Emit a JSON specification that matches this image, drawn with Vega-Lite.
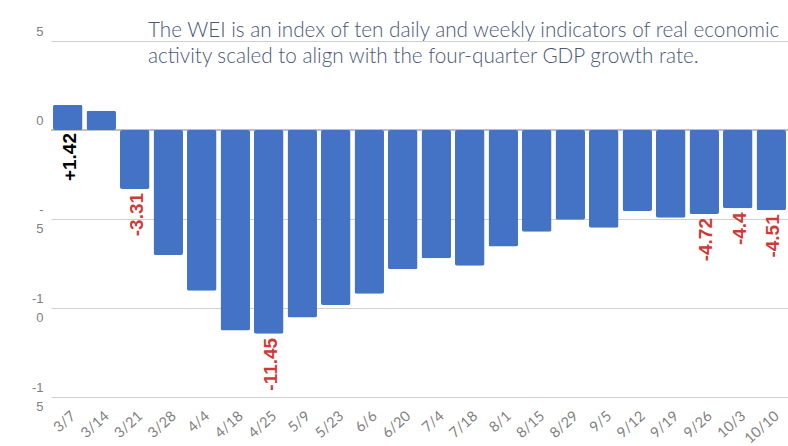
{
  "$schema": "https://vega.github.io/schema/vega-lite/v6.json",
  "width": 737,
  "height": 356,
  "autosize": {"type": "none"},
  "padding": {"left": 51, "top": 41, "right": 0, "bottom": 49},
  "background": "white",
  "title": {
    "text": ["The WEI is an index of ten daily and weekly indicators of real economic", "activity scaled to align with the four-quarter GDP growth rate."],
    "anchor": "start",
    "frame": "group",
    "orient": "top",
    "dx": 97,
    "dy": 63,
    "offset": 4,
    "baseline": "alphabetic",
    "font": "Lato",
    "fontSize": 20.7,
    "fontWeight": 300,
    "color": "#4a5878",
    "lineHeight": 26
  },
  "config": {
    "view": {"stroke": null},
    "axis": {"domain": false, "ticks": false}
  },
  "data": {
    "values": [
      {"week": "3/7", "wei": 1.42, "label": "+1.42"},
      {"week": "3/14", "wei": 1.08},
      {"week": "3/21", "wei": -3.31, "label": "-3.31"},
      {"week": "3/28", "wei": -7.02},
      {"week": "4/4", "wei": -9.03},
      {"week": "4/18", "wei": -11.27},
      {"week": "4/25", "wei": -11.45, "label": "-11.45"},
      {"week": "5/9", "wei": -10.54},
      {"week": "5/23", "wei": -9.83},
      {"week": "6/6", "wei": -9.2},
      {"week": "6/20", "wei": -7.83},
      {"week": "7/4", "wei": -7.21},
      {"week": "7/18", "wei": -7.62},
      {"week": "8/1", "wei": -6.55},
      {"week": "8/15", "wei": -5.71},
      {"week": "8/29", "wei": -5.04},
      {"week": "9/5", "wei": -5.49},
      {"week": "9/12", "wei": -4.55},
      {"week": "9/19", "wei": -4.93},
      {"week": "9/26", "wei": -4.72, "label": "-4.72"},
      {"week": "10/3", "wei": -4.4, "label": "-4.4"},
      {"week": "10/10", "wei": -4.51, "label": "-4.51"}
    ]
  },
  "layer": [
    {
      "mark": {"type": "rule", "color": "#bfbfbf", "strokeWidth": 1},
      "encoding": {"y": {"datum": 0, "type": "quantitative"}}
    },
    {
      "mark": {"type": "bar", "color": "#4472c4", "cornerRadius": 2},
      "encoding": {
        "x": {
          "field": "week",
          "type": "ordinal",
          "sort": null,
          "scale": {"paddingInner": 0.12, "paddingOuter": 0.06},
          "axis": {
            "title": null,
            "labelAngle": -42,
            "labelAlign": "right",
            "labelBaseline": "middle",
            "labelPadding": 17,
            "labelOffset": 6,
            "labelFont": "Lato",
            "labelFontSize": 14.5,
            "labelColor": "#7f7f7f"
          }
        },
        "y": {
          "field": "wei",
          "type": "quantitative",
          "scale": {"domain": [-15, 5], "nice": false},
          "axis": {
            "title": null,
            "grid": true,
            "values": [-15, -10, -5, 0, 5],
            "labelExpr": "datum.value == -5 ? ['-', '5'] : datum.value == -10 ? ['-1', '0'] : datum.value == -15 ? ['-1', '5'] : datum.label",
            "labelBaseline": "top",
            "labelOffset": -16,
            "labelAlign": "right",
            "labelPadding": 8,
            "labelFont": "Liberation Sans",
            "labelFontSize": 13,
            "labelLineHeight": 19,
            "labelColor": "#7f7f7f",
            "gridColor": "#d0d0d0",
            "gridOpacity": 1,
            "gridWidth": 1
          }
        }
      }
    },
    {
      "transform": [{"filter": "isValid(datum.label) && datum.wei < 0"}],
      "mark": {"type": "text", "angle": 270, "align": "right", "baseline": "middle", "dx": -4, "dy": 2, "font": "Liberation Sans", "fontWeight": "bold", "fontSize": 19, "color": "#cf3a36"},
      "encoding": {
        "x": {"field": "week", "type": "ordinal", "sort": null},
        "y": {"field": "wei", "type": "quantitative"},
        "text": {"field": "label"}
      }
    },
    {
      "transform": [{"filter": "isValid(datum.label) && datum.wei > 0"}],
      "mark": {"type": "text", "angle": 270, "align": "right", "baseline": "middle", "dx": -3, "dy": 2, "font": "Liberation Sans", "fontWeight": "bold", "fontSize": 19, "color": "#000000"},
      "encoding": {
        "x": {"field": "week", "type": "ordinal", "sort": null},
        "y": {"datum": 0, "type": "quantitative"},
        "text": {"field": "label"}
      }
    }
  ]
}
